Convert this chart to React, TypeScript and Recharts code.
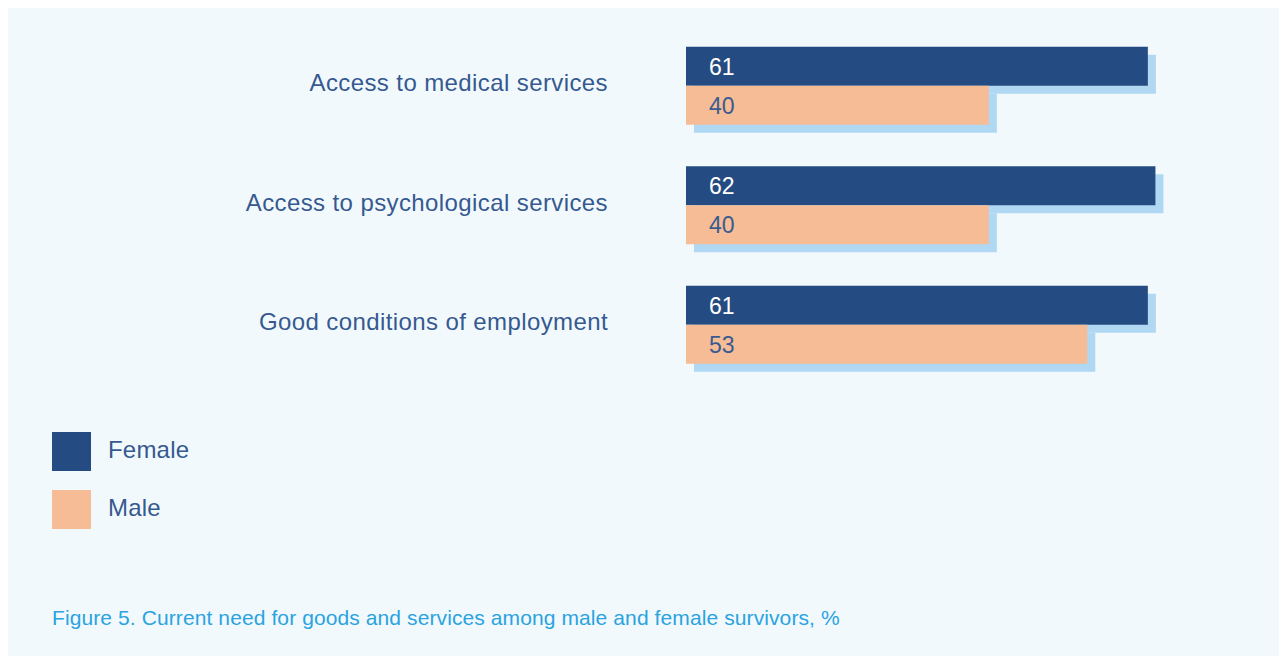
import React from 'react';
import { BarChart, Bar, XAxis, YAxis, LabelList } from 'recharts';

const categories = [
  'Access to medical services',
  'Access to psychological services',
  'Good conditions of employment',
];
const femaleValues = [61, 62, 61];
const maleValues = [40, 40, 53];
const seriesNames = ['Female', 'Male'];
const caption = 'Figure 5. Current need for goods and services among male and female survivors, %';

const data = categories.map((c, i) => ({
  category: c,
  female: femaleValues[i],
  male: maleValues[i],
}));

const FEMALE = '#254c82';
const MALE = '#f5bc96';
const SHADOW = '#b0d8f3';
const BG = '#f2f9fd';
const LABEL = '#36598f';
const CAPTION = '#2aa3e0';
const FONT = '"Liberation Sans", Arial, Helvetica, sans-serif';

const makeShape = (fill: string) => (props: any) => {
  const { x, y, width, height } = props;
  return (
    <g>
      <rect x={x + 8} y={y + 8} width={width} height={height} fill={SHADOW} />
      <rect x={x} y={y} width={width} height={height} fill={fill} />
    </g>
  );
};

const makeValueLabel = (color: string) => (props: any) => {
  const { x, y, height, value } = props;
  return (
    <text
      x={x + 23}
      y={y + height / 2}
      dy="0.36em"
      fill={color}
      fontSize={23}
      fontFamily={FONT}
    >
      {value}
    </text>
  );
};

const CategoryTick = (props: any) => {
  const { y, payload } = props;
  return (
    <text
      x={600}
      y={y - 3}
      dy="0.36em"
      textAnchor="end"
      fill={LABEL}
      fontSize={24}
      letterSpacing={0.4}
      fontFamily={FONT}
    >
      {payload.value}
    </text>
  );
};

export default function App() {
  const legendColors = [FEMALE, MALE];
  return (
    <div
      style={{
        position: 'relative',
        width: 1277,
        height: 648,
        background: BG,
        fontFamily: FONT,
      }}
    >
      <BarChart
        width={1277}
        height={648}
        layout="vertical"
        data={data}
        margin={{ top: 17.75, right: 69, bottom: 271.75, left: 0 }}
        barGap={0}
        barSize={39}
      >
        <XAxis type="number" domain={[0, 70]} hide />
        <YAxis
          type="category"
          dataKey="category"
          width={678}
          axisLine={false}
          tickLine={false}
          tick={<CategoryTick />}
        />
        <Bar dataKey="female" name={seriesNames[0]} fill={FEMALE} shape={makeShape(FEMALE)} isAnimationActive={false}>
          <LabelList dataKey="female" content={makeValueLabel('#ffffff')} />
        </Bar>
        <Bar dataKey="male" name={seriesNames[1]} fill={MALE} shape={makeShape(MALE)} isAnimationActive={false}>
          <LabelList dataKey="male" content={makeValueLabel('#3a5b8f')} />
        </Bar>
      </BarChart>
      {seriesNames.map((name, i) => (
        <div key={name}>
          <div
            style={{
              position: 'absolute',
              left: 44,
              top: 424 + i * 58,
              width: 39,
              height: 39,
              background: legendColors[i],
            }}
          />
          <div
            style={{
              position: 'absolute',
              left: 100,
              top: 424 + i * 58,
              height: 39,
              lineHeight: '36px',
              fontSize: 24,
              letterSpacing: 0.2,
              color: LABEL,
            }}
          >
            {name}
          </div>
        </div>
      ))}
      <div
        style={{
          position: 'absolute',
          left: 44,
          top: 598,
          fontSize: 21,
          letterSpacing: 0.1,
          lineHeight: '24px',
          color: CAPTION,
          whiteSpace: 'nowrap',
        }}
      >
        {caption}
      </div>
    </div>
  );
}
